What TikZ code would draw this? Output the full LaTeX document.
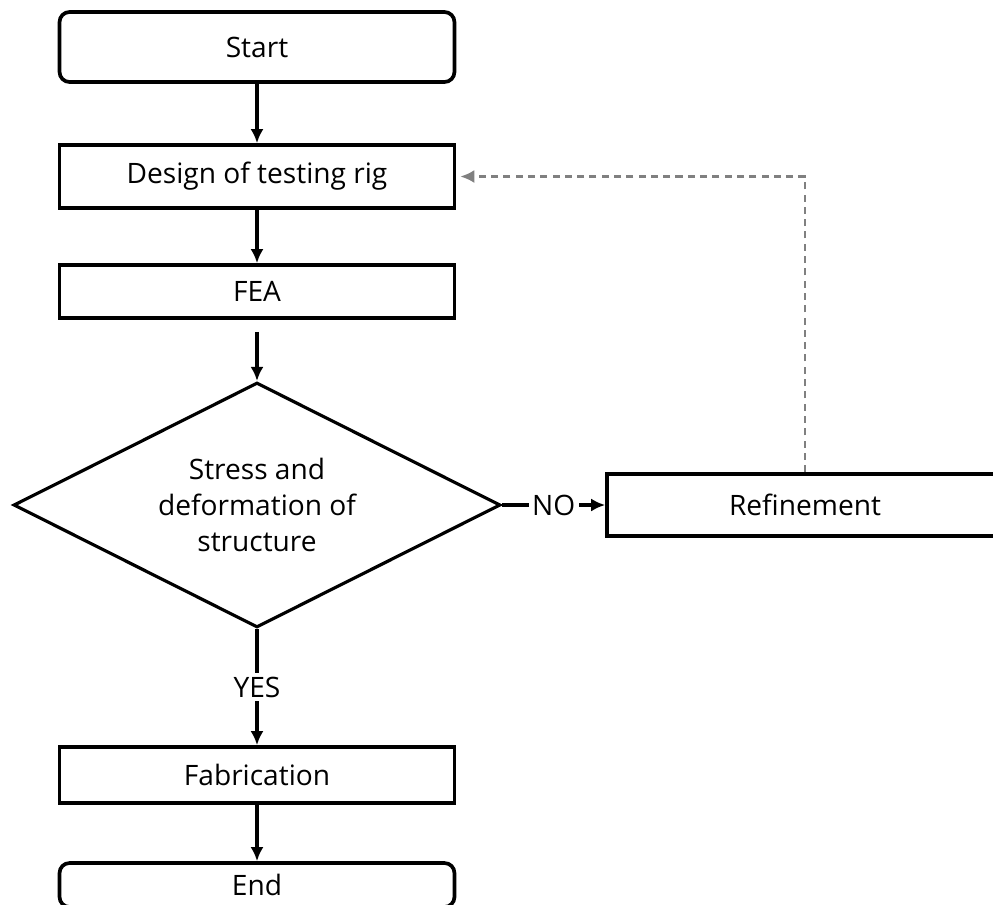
\documentclass[tikz,border=0pt]{standalone}
\usepackage{fontspec}
\setmainfont{Open Sans}
\usetikzlibrary{shapes.geometric,arrows.meta}
\tikzset{
	box/.style={draw, line width=2.1pt, minimum width=7.9cm, inner sep=0pt, font=\fontsize{16}{20.5}\selectfont},
	roundbox/.style={box, rounded corners=0.2cm},
	decision/.style={diamond, aspect=2, draw, line width=1.8pt, minimum width=9.74cm, minimum height=4.9cm, inner sep=0pt, align=center, font=\fontsize{16}{20.5}\selectfont},
	flow/.style={line width=1.8pt, -{Latex[length=0.28cm,width=0.26cm]}},
	answer/.style={fill=white, inner sep=2pt, font=\fontsize{16}{20.5}\selectfont}
}
\begin{document}
\begin{tikzpicture}[x=0.02cm, y=-0.02cm]
			\useasboundingbox (0,0) rectangle (993,904);
			\node[roundbox, minimum height=1.4cm] (start) at (257,47) {Start};
			\node[box, minimum height=1.26cm] (design) at (257,176.5) {Design of testing rig};
			\node[box, minimum height=1.06cm] (fea) at (257,291.5) {FEA};
			\node[decision] (check) at (257,505) {Stress and\\deformation of\\structure};
			\node[box, minimum width=7.92cm, minimum height=1.24cm] (refine) at (805,505) {Refinement};
			\node[box, minimum height=1.12cm] (fab) at (257,775) {Fabrication};
			\node[roundbox, minimum height=0.88cm] (end) at (257,885) {End};
			
			\draw[flow] (start) -- (design);
			\draw[flow] (design) -- (fea);
			\draw[flow] ([yshift=-0.24cm]fea.south) -- (check.north);
			\draw[flow] (check.east) -- node[answer] {NO} (refine.west);
			\draw[flow] (check.south) -- node[answer] {YES} (fab.north);
			\draw[flow] (fab) -- (end);
			\draw[flow, gray, line width=1.4pt, dash pattern=on 4pt off 3pt] (refine.north) |- ([xshift=0.08cm]design.east);
		\end{tikzpicture}
\end{document}
